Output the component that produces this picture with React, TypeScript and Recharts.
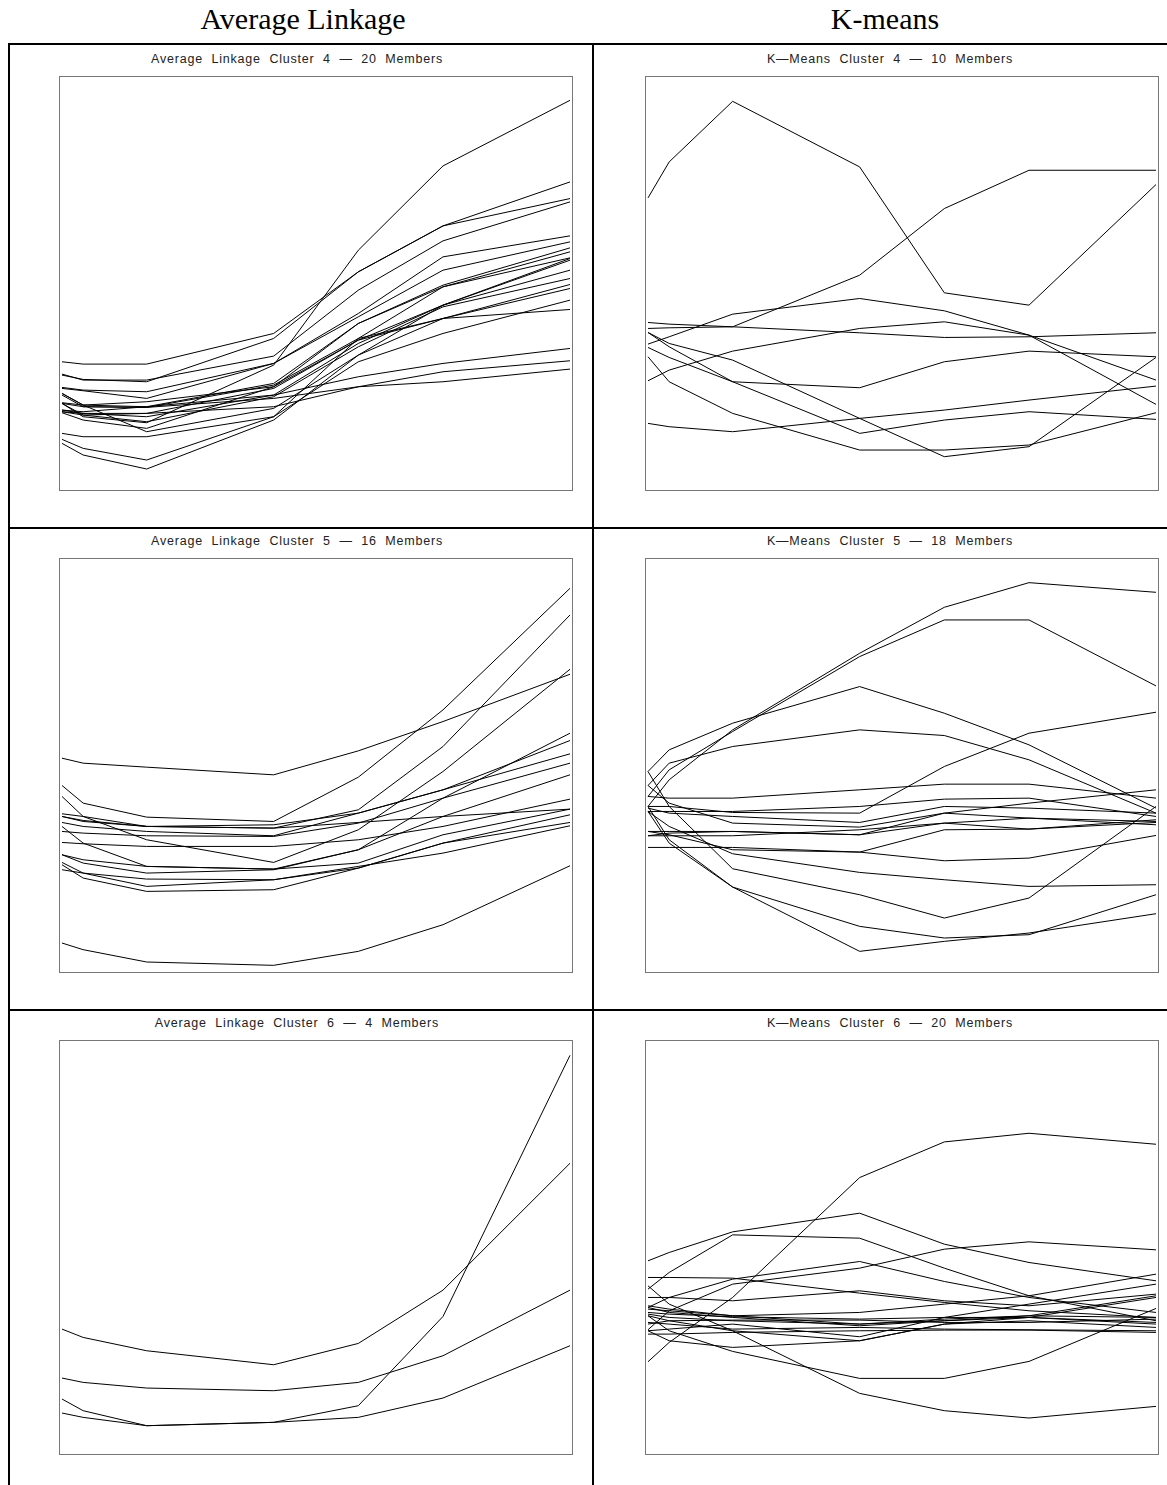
import { LineChart, Line, XAxis, YAxis } from "recharts";

// sampling times (h) shared by every panel
const times = [0, 0.5, 2, 5, 7, 9, 12];

const avgCluster4 = [
  [26, 22, 20.2, 37.5, 72, 97.3, 117],
  [38.5, 37.8, 37.8, 47, 65.5, 79.3, 92.5],
  [34.5, 33.2, 32.5, 45.5, 65.5, 79.3, 87.5],
  [34.8, 33, 33, 40.2, 60, 74.8, 86.5],
  [30.8, 30, 29.5, 38, 53, 70, 76.3],
  [30.5, 29.8, 27.5, 38, 52, 66, 74.5],
  [29, 25.5, 25, 32, 50, 61.5, 72.7],
  [28.5, 25, 24.8, 31.5, 45.5, 61, 71.5],
  [26.2, 25.5, 26.5, 31, 50, 61, 69.7],
  [26, 22.5, 23, 30.5, 45, 55.5, 69],
  [24, 23, 22, 28.5, 44, 55.5, 66],
  [23.5, 22.5, 20.5, 28, 43, 55, 63.5],
  [23.2, 21, 18.5, 31, 45, 51.5, 61.7],
  [29, 25.5, 17.5, 24.5, 40.5, 51.5, 60.5],
  [17, 16, 16, 22, 38.5, 47, 57],
  [15.2, 12.5, 9, 22, 45.5, 51.5, 54.2],
  [14, 10.5, 6.3, 21, 40.5, 55.5, 69.5],
  [24, 23.5, 25, 28.5, 34, 38, 42.5],
  [23.5, 23, 23, 25, 31, 35.5, 38.8],
  [26, 25, 24.8, 27.5, 31, 32.5, 36.3],
];

const kmCluster4 = [
  [87.7, 98.5, 116.7, 97, 59.2, 55.5, 91.7],
  [48.5, 48.7, 49, 64.5, 84.5, 96, 96],
  [50.3, 49.8, 49, 47.2, 45.8, 46, 47.2],
  [43.8, 46, 52.8, 57.5, 53.8, 46.5, 33],
  [47.3, 44, 39, 21.5, 10, 13, 39.8],
  [42.8, 39.8, 32.5, 30.7, 38.5, 41.7, 40],
  [47.3, 43, 32.5, 17, 21, 23.5, 21.2],
  [40, 32.5, 23, 12, 12, 13.5, 23.2],
  [32.8, 36, 41.7, 48.5, 50.5, 46.5, 25.7],
  [20, 19, 17.5, 21.5, 24, 27, 31.2],
];

const avgCluster5 = [
  [8.7, 6.7, 3, 2, 6.2, 14.2, 31.9],
  [64.2, 62.7, 61.5, 59.2, 66.4, 75.2, 89.4],
  [56, 50.7, 46.5, 45.2, 58.5, 78.7, 115.2],
  [46.7, 45.2, 43.7, 43.2, 48.7, 67.7, 107.2],
  [52.7, 46.7, 39.7, 32.9, 42.7, 60.2, 90.9],
  [43.7, 38.7, 31.7, 30.9, 36.7, 52.2, 71.7],
  [47.5, 46.7, 43.7, 44.2, 47.7, 54.7, 69.5],
  [44.9, 43.7, 42.2, 40.9, 47.7, 54.7, 65.5],
  [42.2, 41.7, 40.9, 40.7, 44.7, 52.2, 62.7],
  [35.2, 32.7, 29.7, 30.7, 36.7, 46.7, 59.2],
  [38.9, 38.5, 37.7, 37.7, 39.7, 43.7, 51.9],
  [46.7, 45.5, 43.7, 43.2, 44.9, 46.7, 48.9],
  [32.9, 29.7, 25.7, 27.7, 31.2, 38.7, 47.2],
  [32.2, 28.2, 24.2, 24.7, 31.2, 38.7, 44.9],
  [30.7, 29.7, 27.9, 27.7, 31.7, 35.7, 43.9],
  [35.2, 33.7, 31.7, 30.9, 32.7, 41.2, 48.9],
];

const kmCluster5 = [
  [49.7, 57.7, 72.7, 95.7, 109.5, 116.9, 114],
  [52.7, 60.7, 72.2, 94.7, 105.7, 105.7, 85.9],
  [60.2, 66.7, 74.7, 85.7, 77.7, 68.2, 49.2],
  [56, 62.7, 67.7, 72.7, 71, 63.7, 47.7],
  [49.7, 49.7, 47.9, 47.7, 61.7, 71.7, 78],
  [52.7, 52.2, 52.2, 54.7, 56.4, 56.4, 52.2],
  [48.2, 48.2, 48.2, 49.7, 51.9, 52.2, 46.7],
  [49.2, 47.7, 46.7, 44.9, 49.7, 49.2, 47.7],
  [56, 50.7, 44.7, 43.5, 47.7, 46.2, 45.2],
  [42.2, 42.2, 42.2, 41.2, 44.7, 46.2, 44.2],
  [40.9, 40.9, 40.9, 42.7, 44.7, 42.9, 45.7],
  [37.4, 37.4, 37.4, 36, 33.4, 34.2, 41],
  [48.2, 43.7, 35.5, 29.9, 27.7, 25.7, 26.2],
  [60.2, 49.7, 31, 23.2, 16.2, 22.2, 49.7],
  [48.2, 38.7, 25.5, 13.7, 10.2, 11.2, 23.2],
  [49.7, 39.7, 25.5, 6.2, 9.2, 11.7, 17.5],
  [42.2, 41.2, 36.7, 36, 42.7, 42.9, 44.9],
  [40.9, 41.7, 42.2, 41.2, 47.7, 50.7, 54.7],
];

const avgCluster6 = [
  [37.5, 35, 31, 26.8, 33.2, 49.2, 87.3],
  [16.5, 13, 8.5, 9.5, 14.5, 41.3, 119.7],
  [22.8, 21.5, 19.8, 19, 21.5, 29.5, 49.2],
  [12.3, 11, 8.5, 9.5, 11, 16.8, 32.5],
];

const kmCluster6 = [
  [27.7, 33.5, 47, 83, 93.7, 96.3, 93],
  [58, 60.5, 66.7, 72.3, 63, 57.5, 52],
  [49.5, 54.5, 65.8, 64.8, 55.8, 47.5, 40],
  [53, 53, 52.8, 48.3, 45.5, 43, 41],
  [37.3, 43, 51, 55.8, 61.5, 63.7, 61.3],
  [44, 47, 52.5, 57.8, 51.8, 47, 42.5],
  [41.5, 37, 30.8, 22.7, 22.7, 27.8, 43.7],
  [50.5, 45, 37, 18.2, 13, 10.8, 14.3],
  [47, 47, 46, 49, 46, 44.5, 48],
  [44.5, 43.5, 41.5, 42.5, 45, 47.5, 54],
  [37, 37.5, 39, 35.2, 41, 45, 51],
  [43.5, 43, 41.5, 39, 40, 41.5, 47.5],
  [44, 42.5, 41, 38.5, 40, 41, 47],
  [39, 40, 40.2, 40.2, 39.5, 39.5, 40.5],
  [42.5, 42, 41.2, 40.5, 41, 41, 39.5],
  [36, 36, 36.5, 37, 37.2, 37.2, 36.5],
  [37, 34, 32, 34, 39, 41, 39],
  [41.5, 40, 37, 34, 39, 40, 38],
  [39.5, 39, 37.5, 38, 37.5, 37.3, 37],
  [42, 41, 40, 39, 40.5, 41.5, 41],
];

const panels = [
  { title: "Average  Linkage  Cluster  4  \u2014  20  Members", series: avgCluster4, left: 60, top: 77, titleCenter: 297 },
  { title: "K\u2014Means  Cluster  4  \u2014  10  Members", series: kmCluster4, left: 646, top: 77, titleCenter: 890 },
  { title: "Average  Linkage  Cluster  5  \u2014  16  Members", series: avgCluster5, left: 60, top: 559, titleCenter: 297 },
  { title: "K\u2014Means  Cluster  5  \u2014  18  Members", series: kmCluster5, left: 646, top: 559, titleCenter: 890 },
  { title: "Average  Linkage  Cluster  6  \u2014  4  Members", series: avgCluster6, left: 60, top: 1041, titleCenter: 297 },
  { title: "K\u2014Means  Cluster  6  \u2014  20  Members", series: kmCluster6, left: 646, top: 1041, titleCenter: 890 },
];

const BOX_W = 512;
const BOX_H = 413;

function Panel({ title, series, left, top, titleCenter }: { title: string; series: number[][]; left: number; top: number; titleCenter: number }) {
  const data = times.map((t, i) => {
    const row: { [key: string]: number } = { t };
    series.forEach((s, k) => {
      row[`s${k}`] = s[i];
    });
    return row;
  });
  return (
    <>
      <div
        style={{
          position: "absolute",
          left: titleCenter - 250,
          width: 500,
          top: top - 25,
          textAlign: "center",
          fontFamily: "'Liberation Sans', Arial, sans-serif",
          fontSize: 12.5,
          letterSpacing: 0.8,
          whiteSpace: "pre",
          color: "#222",
        }}
      >
        {title}
      </div>
      <div style={{ position: "absolute", left, top, width: BOX_W, height: BOX_H }}>
        <LineChart width={BOX_W} height={BOX_H} data={data} margin={{ top: 0, right: 2, bottom: 0, left: 2 }}>
          <XAxis type="number" dataKey="t" domain={[0, 12]} hide />
          <YAxis type="number" domain={[0, 124]} hide />
          {series.map((_, k) => (
            <Line key={k} dataKey={`s${k}`} stroke="#000" strokeWidth={1} dot={false} isAnimationActive={false} />
          ))}
        </LineChart>
      </div>
      <div
        style={{
          position: "absolute",
          left: left - 1,
          top: top - 1,
          width: BOX_W,
          height: BOX_H,
          border: "1px solid #777",
          pointerEvents: "none",
        }}
      />
    </>
  );
}

export default function App() {
  const header = {
    position: "absolute" as const,
    top: 1,
    textAlign: "center" as const,
    fontFamily: "'Liberation Serif', 'Times New Roman', serif",
    fontSize: 30,
    lineHeight: "36px",
    color: "#000",
  };
  return (
    <div style={{ position: "absolute", left: 0, top: 0, width: 1167, height: 1485, background: "#fff", overflow: "hidden" }}>
      <div style={{ ...header, left: 3, width: 600 }}>Average Linkage</div>
      <div style={{ ...header, left: 585, width: 600 }}>K-means</div>
      {/* table rules */}
      <div style={{ position: "absolute", left: 8, top: 43, width: 1159, height: 2, background: "#000" }} />
      <div style={{ position: "absolute", left: 8, top: 527, width: 1159, height: 2, background: "#000" }} />
      <div style={{ position: "absolute", left: 8, top: 1009, width: 1159, height: 2, background: "#000" }} />
      <div style={{ position: "absolute", left: 8, top: 43, width: 2, height: 1442, background: "#000" }} />
      <div style={{ position: "absolute", left: 592, top: 43, width: 2, height: 1442, background: "#000" }} />
      {panels.map((p, i) => (
        <Panel key={i} {...p} />
      ))}
    </div>
  );
}
